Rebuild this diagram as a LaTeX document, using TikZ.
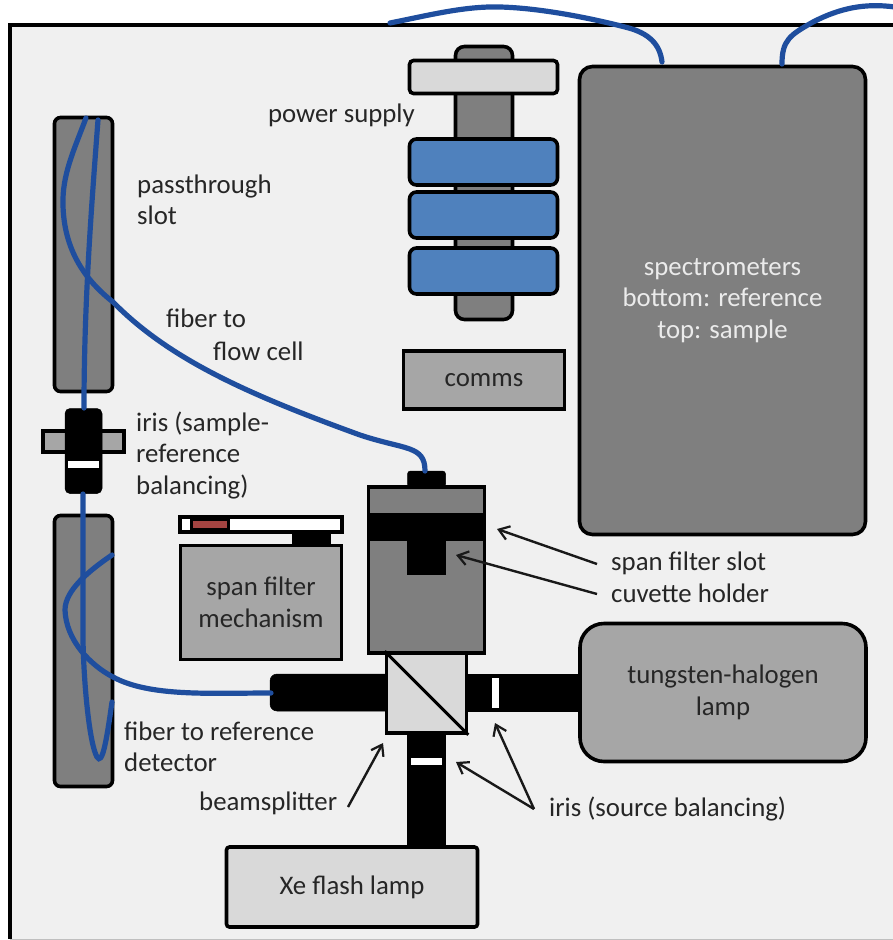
\documentclass[tikz,border=0pt]{standalone}
\usepackage{fontspec}
\setmainfont{Carlito}
\usepackage{tikz}
\usetikzlibrary{arrows.meta}
\definecolor{panel}{HTML}{F0F0F0}
\definecolor{midgray}{HTML}{7F7F7F}
\definecolor{lightgray}{HTML}{A6A6A6}
\definecolor{palegray}{HTML}{D9D9D9}
\definecolor{supplyblue}{HTML}{4F81BD}
\definecolor{fiberblue}{HTML}{1F4E9E}
\definecolor{filterred}{HTML}{C0504D}
\definecolor{labeltext}{HTML}{262626}
\tikzset{
  part/.style={draw=black,line width=3.6pt,inner sep=0pt,text=labeltext,align=center,font=\fontsize{26.8}{31.5}\selectfont},
  blackpart/.style={fill=black,draw=black,line width=0.5pt,inner sep=0pt},
  gap/.style={fill=white,inner sep=0pt},
  fiber/.style={draw=fiberblue,line width=5.2pt,line cap=round},
  note/.style={text=labeltext,inner sep=0pt,align=left,font=\fontsize{26.8}{31.5}\selectfont},
  pointer/.style={-{Straight Barb[length=10pt,width=14pt,line width=2.2pt]},line width=2.4pt,black!90},
}
\begin{document}
\begin{tikzpicture}[x=1pt,y=-1pt]
  \useasboundingbox (0,0) rectangle (893,940);

  % outer case
  \fill[panel] (9.5,25) rectangle (894,939);
  \draw[black,line width=4pt] (894,25) -- (9.5,25) -- (9.5,939);
  \draw[black!25,line width=2pt] (9.5,939.5) -- (894,939.5);

  % passthrough slots
  \node[part,fill=midgray,rounded corners=6pt,minimum width=58pt,minimum height=274pt] (slotupper) at (83.5,254.5) {};
  \node[part,fill=midgray,rounded corners=6pt,minimum width=58pt,minimum height=271pt] (slotlower) at (83.5,651) {};

  % power supply
  \node[part,fill=midgray,rounded corners=9pt,minimum width=57pt,minimum height=273pt] (supplybar) at (484,183) {};
  \node[part,fill=palegray,rounded corners=4pt,minimum width=148pt,minimum height=33pt] (supplytop) at (483.5,77) {};
  \foreach \y/\n in {162/a,215/b,271/c}
    \node[part,fill=supplyblue,rounded corners=7pt,minimum width=148pt,minimum height=46pt] (supply\n) at (483.5,\y) {};
  \node[note,anchor=east] (supplylabel) at (415,115) {power supply};

  % boxes with text
  \node[part,fill=midgray,rounded corners=13pt,minimum width=286pt,minimum height=468pt,text=white!92!black] (spectro) at (722.5,300.5) {spectrometers\\bottom: reference\\top: sample};
  \node[part,fill=lightgray,minimum width=161pt,minimum height=58pt] (comms) at (484,380) {comms};
  \node[part,fill=lightgray,rounded corners=24pt,minimum width=286pt,minimum height=138pt] (tungsten) at (723,692.5) {tungsten-halogen\\lamp};
  \node[part,fill=palegray,rounded corners=3pt,minimum width=251pt,minimum height=80pt] (xelamp) at (352,887) {Xe flash lamp};

  % span filter mechanism
  \node[part,fill=white,minimum width=162pt,minimum height=15pt] (filterbar) at (261,524.5) {};
  \node[fill=filterred!85!black,draw=black,line width=2.4pt,inner sep=0pt,minimum width=37pt,minimum height=10pt] (filterpatch) at (210,524.5) {};
  \node[blackpart,minimum width=38pt,minimum height=13pt] (filterpost) at (311,539) {};
  \node[part,fill=lightgray,minimum width=161pt,minimum height=114pt] (filterbox) at (261,602.5) {span filter\\mechanism};

  % sample-reference iris
  \node[part,fill=lightgray,minimum width=81pt,minimum height=21pt] (irisside) at (83.5,441.5) {};
  \node[blackpart,rounded corners=5pt,minimum width=37pt,minimum height=85pt] (irisbody) at (83.5,451) {};
  \node[gap,minimum width=31pt,minimum height=7pt] (irisgap) at (83.5,464.5) {};

  % cuvette holder and optical arms
  \node[blackpart,rounded corners=3pt,minimum width=38pt,minimum height=16pt] (cellcap) at (426.5,479) {};
  \node[blackpart,rounded corners=7pt,minimum width=124pt,minimum height=37pt] (armleft) at (332,692.5) {};
  \node[blackpart,minimum width=115pt,minimum height=37pt] (armright) at (524,692.5) {};
  \node[blackpart,minimum width=38pt,minimum height=116pt] (armlower) at (426.5,790) {};
  \node[gap,minimum width=7pt,minimum height=30pt] (gapright) at (495,692.5) {};
  \node[gap,minimum width=31pt,minimum height=7pt] (gaplower) at (426.5,761) {};
  \node[part,fill=midgray,minimum width=116pt,minimum height=166pt] (holder) at (426.5,570) {};
  \node[blackpart,minimum width=116pt,minimum height=27pt] (holderband) at (426.5,526.5) {};
  \node[blackpart,minimum width=38pt,minimum height=35pt] (holderslot) at (426.5,556.5) {};

  % beamsplitter
  \node[part,fill=palegray,minimum width=80pt,minimum height=80pt] (splitter) at (426.5,693) {};
  \draw[line width=3pt] (splitter.north west) -- (splitter.south east);

  % fibers
  \draw[fiber] (86,118) .. controls (74,150) and (62,175) .. (63,205) .. controls (64,250) and (85,280) .. (113,302) .. controls (170,360) and (250,395) .. (360,435) .. controls (405,450) and (425,445) .. (425,471);
  \draw[fiber] (98,120) .. controls (92,200) and (84,300) .. (84,408);
  \draw[fiber] (83,494) .. controls (83,560) and (83,600) .. (83,640) .. controls (84,690) and (90,745) .. (97,757) .. controls (102,765) and (106,745) .. (112,702);
  \draw[fiber] (112,555) .. controls (90,570) and (65,590) .. (65,610) .. controls (66,640) and (90,665) .. (113,677) .. controls (150,697) and (210,693) .. (271,693);
  \draw[fiber] (390,23) .. controls (430,15) and (465,6) .. (500,7) .. controls (540,8) and (590,18) .. (625,27) .. controls (650,33) and (660,45) .. (662,62);
  \draw[fiber] (782,64) .. controls (782,40) and (790,35) .. (813,22) .. controls (840,8) and (865,3) .. (895,7);

  % labels
  \node[note,anchor=west] (slotlabel) at (137,200) {passthrough\\slot};
  \node[note,anchor=west] (fiberflow) at (166,318) {fiber to};
  \node[note,anchor=west] (fibercell) at (213,351) {flow cell};
  \node[note,anchor=west] (irislabel) at (136,455.5) {iris (sample-\\reference\\balancing)};
  \node[note,anchor=west] (fiberref) at (124,747) {fiber to reference\\detector};
  \node[note,anchor=west] (slotnote) at (611,563) {span filter slot};
  \node[note,anchor=west] (cuvettenote) at (611,593) {cuvette holder};
  \node[note,anchor=west] (splitnote) at (199,803) {beamsplitter};
  \node[note,anchor=west] (sourcenote) at (549,809) {iris (source balancing)};

  % pointers
  \coordinate (tipslot) at (497,529);
  \coordinate (tipcuvette) at (456,555);
  \coordinate (tipsplit) at (383,743);
  \coordinate (tipright) at (495,723);
  \coordinate (tiplower) at (456,762);
  \coordinate (tailslot) at (597,564);
  \coordinate (tailcuvette) at (597,594);
  \coordinate (tailsplit) at (348,807);
  \coordinate (tailsource) at (534,809);
  \draw[pointer] (tailslot) -- (tipslot);
  \draw[pointer] (tailcuvette) -- (tipcuvette);
  \draw[pointer] (tailsplit) -- (tipsplit);
  \draw[pointer] (tailsource) -- (tipright);
  \draw[pointer] (tailsource) -- (tiplower);
\end{tikzpicture}
\end{document}
